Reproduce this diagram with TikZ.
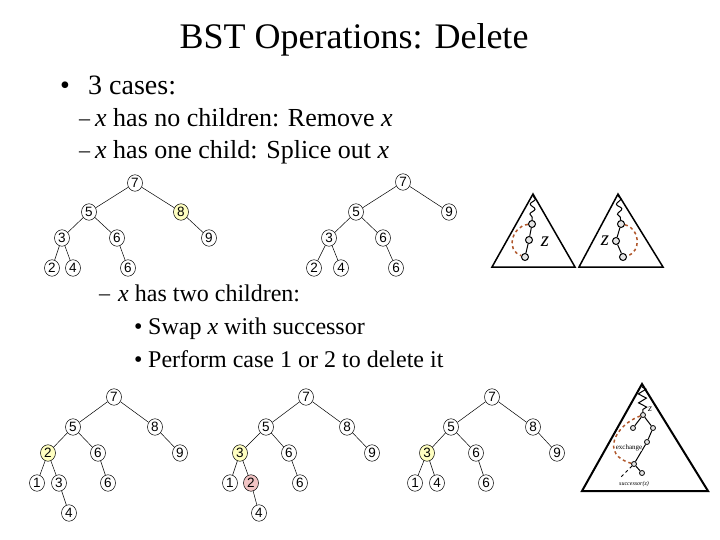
\documentclass[tikz,border=0pt]{standalone}
\usepackage{fontspec}
\setmainfont{Liberation Serif}
\setsansfont{Liberation Sans}
\usetikzlibrary{decorations.pathmorphing,shapes.geometric}
\definecolor{pickyellow}{HTML}{FFFFC0}
\definecolor{movedpink}{HTML}{F2C4C4}
\definecolor{swapbrown}{HTML}{B0572B}

\begin{document}
\begin{tikzpicture}[
    x=1pt, y=-1pt,
    title/.style={font=\fontsize{36}{40}\selectfont, anchor=base, inner sep=0pt},
    levelone/.style={font=\fontsize{28}{30}\selectfont, anchor=base west, inner sep=0pt},
    leveltwo/.style={font=\fontsize{26}{28}\selectfont, anchor=base west, inner sep=0pt},
    levelthree/.style={font=\fontsize{24}{28}\selectfont, anchor=base west, inner sep=0pt},
    keynode/.style={ellipse, draw, line width=0.5pt, inner sep=0pt, minimum width=15pt, minimum height=16.5pt, font=\sffamily\fontsize{13.5}{13.5}\selectfont},
    picked/.style={keynode, fill=pickyellow},
    moved/.style={keynode, fill=movedpink},
    link/.style={line width=0.5pt},
    subtree/.style={line width=1.5pt, line join=miter},
    bead/.style={circle, draw, line width=1pt, fill=gray!20, inner sep=0pt, minimum size=7pt},
    swappath/.style={draw=swapbrown, dashed, line width=1.5pt},
    wiggle/.style={decorate, decoration={snake, amplitude=2.5pt, segment length=10pt}, line width=1pt},
    tiny/.style={font=\fontsize{7}{7}\selectfont, inner sep=0pt},
]
    \useasboundingbox (0,0) rectangle (720,540);

    % =====================================================================
    % TEXT
    % =====================================================================
    \node[title] (head) at (354, 49) {BST Operations: Delete};

    \node[levelone] (cases) at (60, 95) {\makebox[28pt][l]{\textbullet}3 cases:};

    \node[leveltwo] (nochild) at (79, 127) {\makebox[16pt][l]{\fontsize{22}{22}\selectfont\raisebox{1pt}{--}}\textit{x} has no children: Remove \textit{x}};
    \node[leveltwo] (onechild) at (79, 159) {\makebox[16pt][l]{\fontsize{22}{22}\selectfont\raisebox{1pt}{--}}\textit{x} has one child: Splice out \textit{x}};
    \node[levelthree] (twochild) at (99, 301) {\makebox[19pt][l]{\fontsize{22}{22}\selectfont\raisebox{1pt}{--}}\textit{x} has two children:};
    \node[levelthree] (swaptext) at (134, 334) {\makebox[14pt][l]{\textbullet}Swap \textit{x} with successor};
    \node[levelthree] (casetext) at (134, 367) {\makebox[14pt][l]{\textbullet}Perform case 1 or 2 to delete it};

    % =====================================================================
    % (a) one child: before
    % =====================================================================
    \node[keynode] (a7) at (135, 183) {7};
    \node[keynode] (a5) at (89, 212) {5};
    \node[picked]  (a8) at (181, 212) {8};
    \node[keynode] (a3) at (62, 238) {3};
    \node[keynode] (a6) at (117, 238) {6};
    \node[keynode] (a9) at (209, 238) {9};
    \node[keynode] (a2) at (52, 268) {2};
    \node[keynode] (a4) at (73, 268) {4};
    \node[keynode] (a6b) at (128, 268) {6};
    \draw[link] (a7) -- (a5); \draw[link] (a7) -- (a8);
    \draw[link] (a5) -- (a3); \draw[link] (a5) -- (a6);
    \draw[link] (a8) -- (a9);
    \draw[link] (a3) -- (a2); \draw[link] (a3) -- (a4);
    \draw[link] (a6) -- (a6b);

    % =====================================================================
    % (b) one child: after
    % =====================================================================
    \node[keynode] (b7) at (403, 182) {7};
    \node[keynode] (b5) at (356, 212) {5};
    \node[keynode] (b9) at (449, 212) {9};
    \node[keynode] (b3) at (329, 238) {3};
    \node[keynode] (b6) at (383, 238) {6};
    \node[keynode] (b2) at (314, 268) {2};
    \node[keynode] (b4) at (341, 268) {4};
    \node[keynode] (b6b) at (396, 268) {6};
    \draw[link] (b7) -- (b5); \draw[link] (b7) -- (b9);
    \draw[link] (b5) -- (b3); \draw[link] (b5) -- (b6);
    \draw[link] (b3) -- (b2); \draw[link] (b3) -- (b4);
    \draw[link] (b6) -- (b6b);

    % Splice sketches
    \draw[subtree] (533, 194) -- (575, 267) -- (492, 267) -- cycle;
    \node[bead] (s1) at (532, 224) {};
    \node[bead] (s2) at (529, 240) {};
    \node[bead] (s3) at (525, 257) {};
    \coordinate (s0) at (533, 196);
    \draw[wiggle] (s0) -- (s1);
    \draw[line width=1pt] (s1) -- (s2) -- (s3);
    \draw[swappath] (s1) .. controls (512, 226) and (505, 250) .. (s3);
    \node[font=\itshape\fontsize{21}{21}\selectfont] (sz) at (545, 242) {z};

    \draw[subtree] (618, 194) -- (663, 267) -- (579, 267) -- cycle;
    \node[bead] (r1) at (621, 224) {};
    \node[bead] (r2) at (616, 241) {};
    \node[bead] (r3) at (623, 257) {};
    \coordinate (r0) at (618, 196);
    \draw[wiggle] (r0) -- (r1);
    \draw[line width=1pt] (r1) -- (r2) -- (r3);
    \draw[swappath] (r1) .. controls (640, 228) and (642, 252) .. (r3);
    \node[font=\itshape\fontsize{21}{21}\selectfont] (rz) at (605, 241) {z};

    % =====================================================================
    % (c) two children: start
    % =====================================================================
    \node[keynode] (c7) at (114, 397) {7};
    \node[keynode] (c5) at (73, 427) {5};
    \node[keynode] (c8) at (155, 427) {8};
    \node[picked]  (c2) at (48, 453) {2};
    \node[keynode] (c6) at (98, 453) {6};
    \node[keynode] (c9) at (180, 453) {9};
    \node[keynode] (c1) at (37, 483) {1};
    \node[keynode] (c3) at (59, 483) {3};
    \node[keynode] (c6b) at (108, 483) {6};
    \node[keynode] (c4) at (69, 513) {4};
    \draw[link] (c7) -- (c5); \draw[link] (c7) -- (c8);
    \draw[link] (c5) -- (c2); \draw[link] (c5) -- (c6);
    \draw[link] (c8) -- (c9);
    \draw[link] (c2) -- (c1); \draw[link] (c2) -- (c3);
    \draw[link] (c6) -- (c6b); \draw[link] (c3) -- (c4);

    % =====================================================================
    % (d) two children: swapped
    % =====================================================================
    \node[keynode] (d7) at (306, 397) {7};
    \node[keynode] (d5) at (266, 427) {5};
    \node[keynode] (d8) at (347, 427) {8};
    \node[picked]  (d3) at (240, 453) {3};
    \node[keynode] (d6) at (289, 453) {6};
    \node[keynode] (d9) at (372, 453) {9};
    \node[keynode] (d1) at (230, 483) {1};
    \node[moved]   (d2) at (251, 483) {2};
    \node[keynode] (d6b) at (300, 483) {6};
    \node[keynode] (d4) at (259, 513) {4};
    \draw[link] (d7) -- (d5); \draw[link] (d7) -- (d8);
    \draw[link] (d5) -- (d3); \draw[link] (d5) -- (d6);
    \draw[link] (d8) -- (d9);
    \draw[link] (d3) -- (d1); \draw[link] (d3) -- (d2);
    \draw[link] (d6) -- (d6b); \draw[link] (d2) -- (d4);

    % =====================================================================
    % (e) two children: done
    % =====================================================================
    \node[keynode] (e7) at (492, 397) {7};
    \node[keynode] (e5) at (451, 427) {5};
    \node[keynode] (e8) at (533, 427) {8};
    \node[picked]  (e3) at (427, 453) {3};
    \node[keynode] (e6) at (476, 453) {6};
    \node[keynode] (e9) at (557, 453) {9};
    \node[keynode] (e1) at (415, 483) {1};
    \node[keynode] (e4) at (437, 483) {4};
    \node[keynode] (e6b) at (486, 483) {6};
    \draw[link] (e7) -- (e5); \draw[link] (e7) -- (e8);
    \draw[link] (e5) -- (e3); \draw[link] (e5) -- (e6);
    \draw[link] (e8) -- (e9);
    \draw[link] (e3) -- (e1); \draw[link] (e3) -- (e4);
    \draw[link] (e6) -- (e6b);

    % Successor sketch
    \draw[line width=2pt, line join=miter] (642, 384) -- (708, 491) -- (582, 491) -- cycle;
    \node[bead, minimum size=5pt, line width=0.8pt] (zn) at (643, 415) {};
    \node[bead, minimum size=5pt, line width=0.8pt] (zl) at (633, 428) {};
    \node[bead, minimum size=5pt, line width=0.8pt] (zr) at (653, 428) {};
    \node[bead, minimum size=5pt, line width=0.8pt] (zm) at (647, 442) {};
    \node[bead, minimum size=5pt, line width=0.8pt] (sc) at (634, 464) {};
    \node[bead, minimum size=5pt, line width=0.8pt] (sr) at (642, 473) {};
    \coordinate (ztop) at (642, 387);
    \coordinate (sl) at (620, 478);
    \draw[decorate, decoration={zigzag, amplitude=4pt, segment length=9pt}, line width=1pt] (ztop) -- (zn);
    \draw[line width=1pt] (zn) -- (zl);
    \draw[line width=1pt] (zn) -- (zr) -- (zm) -- (sc) -- (sr);
    \draw[line width=1pt, dashed] (sc) -- (sl);
    \draw[swappath] (zn) .. controls (615, 425) and (600, 455) .. (sc);
    \node[font=\itshape\fontsize{10}{10}\selectfont, inner sep=0pt] (zlabel) at (650, 409) {z};
    \node[tiny, fill=white, fill opacity=0.6, text opacity=1] (exch) at (629, 448) {exchange};
    \node[tiny, font=\itshape\fontsize{6}{6}\selectfont] (succ) at (634, 484) {successor(z)};

\end{tikzpicture}
\end{document}
